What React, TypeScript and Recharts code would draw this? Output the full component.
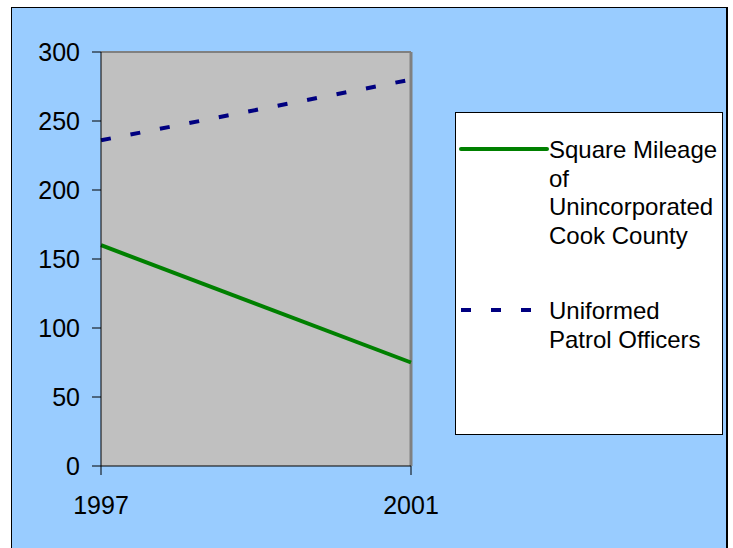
import { LineChart, Line, XAxis, YAxis, CartesianGrid, ReferenceLine } from 'recharts';

const years = ['1997', '2001'];
const squareMileage = [160, 75];
const patrolOfficers = [236, 280];
const yTicks = [0, 50, 100, 150, 200, 250, 300];

const data = years.map((year, i) => ({
  year,
  mileage: squareMileage[i],
  officers: patrolOfficers[i],
}));

const FONT = '"Liberation Sans", Arial, sans-serif';

const legendItems = [
  { key: 'mileage', color: '#008000', dash: undefined as string | undefined, lines: ['Square Mileage', 'of', 'Unincorporated', 'Cook County'], top: 23, iconY: 36 },
  { key: 'officers', color: '#000080', dash: '10 20', lines: ['Uniformed', 'Patrol Officers'], top: 184, iconY: 197 },
];

const ChartLegend = () => (
  <div
    style={{
      position: 'absolute',
      left: 443,
      top: 104,
      width: 268,
      height: 323,
      boxSizing: 'border-box',
      background: '#ffffff',
      border: '1px solid #000000',
      fontFamily: FONT,
      fontSize: 24,
      lineHeight: '28.5px',
      color: '#000000',
    }}
  >
    {legendItems.map((item) => (
      <div key={item.key}>
        <svg style={{ position: 'absolute', left: 0, top: item.iconY - 10 }} width={95} height={20}>
          <line x1={5} y1={10} x2={item.dash ? 80 : 91} y2={10} stroke={item.color} strokeWidth={4} strokeDasharray={item.dash} strokeLinecap={item.dash ? 'butt' : 'round'} />
        </svg>
        <div style={{ position: 'absolute', left: 93, top: item.top }}>
          {item.lines.map((l) => (
            <div key={l}>{l}</div>
          ))}
        </div>
      </div>
    ))}
  </div>
);

export default function App() {
  return (
    <div
      style={{
        position: 'absolute',
        left: 11,
        top: 7,
        width: 717,
        height: 548,
        boxSizing: 'border-box',
        background: '#99CCFF',
        borderLeft: '1px solid #000',
        borderTop: '1px solid #000',
        borderRight: '2px solid #000',
        borderBottom: '1px solid #000',
        fontFamily: FONT,
      }}
    >
      <LineChart width={714} height={540} data={data} margin={{ top: 44, right: 315, left: 0, bottom: 42 }}>
        <CartesianGrid fill="#C0C0C0" horizontal={false} vertical={false} />
        <XAxis
          dataKey="year"
          height={40}
          tickSize={9}
          tickMargin={21}
          stroke="#000"
          tick={{ fill: '#000', fontSize: 25, fontFamily: FONT }}
        />
        <YAxis
          width={89}
          domain={[0, 300]}
          ticks={yTicks}
          tickSize={9}
          tickMargin={12}
          stroke="#000"
          tick={{ fill: '#000', fontSize: 25, fontFamily: FONT }}
        />
        <ReferenceLine y={300} stroke="#808080" strokeWidth={2} />
        <ReferenceLine x="2001" stroke="#808080" strokeWidth={3} />
        <Line dataKey="officers" stroke="#000080" strokeWidth={4} strokeDasharray="10 20" dot={false} isAnimationActive={false} />
        <Line dataKey="mileage" stroke="#008000" strokeWidth={4} dot={false} isAnimationActive={false} />
      </LineChart>
      <ChartLegend />
    </div>
  );
}
